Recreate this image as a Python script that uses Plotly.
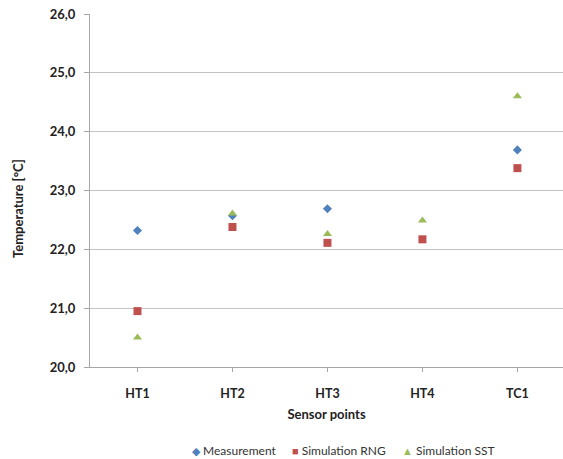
import plotly.graph_objects as go

sensors = ["HT1", "HT2", "HT3", "HT4", "TC1"]
measurement = [22.32, 22.57, 22.69, None, 23.69]
simulation_rng = [20.95, 22.38, 22.11, 22.17, 23.38]
simulation_sst = [20.50, 22.61, 22.26, 22.49, 24.60]

series = [
    ("Measurement", measurement, "diamond", "#4F81BD", 7, "◆"),
    ("Simulation RNG", simulation_rng, "square", "#C0504D", 8, "■"),
    ("Simulation SST", simulation_sst, "triangle-up", "#9BBB59", 8, "▲"),
]

font_family = "Lato, 'Open Sans', sans-serif"

fig = go.Figure()
for name, vals, sym, col, size, glyph in series:
    fig.add_trace(go.Scatter(
        x=sensors, y=vals, mode="markers", name=name, showlegend=False,
        marker=dict(symbol=sym, color=col, size=size, line=dict(width=0)),
    ))

# compact legend row below the axis title
legend_x = [190, 290, 400]
for (name, vals, sym, col, size, glyph), lx in zip(series, legend_x):
    fig.add_annotation(
        xref="paper", yref="paper",
        x=(lx - 90) / 473, y=(367 - 450) / 353,
        xanchor="left", yanchor="middle", showarrow=False,
        text=f"<span style='color:{col};font-size:11px'>{glyph}</span> {name}",
        font=dict(size=12, family=font_family, color="#333333"),
    )

# y-axis title
fig.add_annotation(
    xref="paper", yref="paper",
    x=(18 - 90) / 473, y=(367 - 209) / 353,
    xanchor="center", yanchor="middle", showarrow=False, textangle=-90,
    text="<b>Temperature [°C]</b>",
    font=dict(size=13, family=font_family, color="#222222"),
)

fig.update_layout(
    width=563, height=459,
    margin=dict(l=90, r=0, t=14, b=92),
    paper_bgcolor="white", plot_bgcolor="white",
    separators=", ",
    font=dict(family=font_family, color="#222222", size=12),
    showlegend=False,
    xaxis=dict(
        type="category", range=[-0.5, 4.48],
        showgrid=False, showline=True, linecolor="#A6A6A6", linewidth=1,
        ticks="outside", ticklen=4, tickcolor="#A6A6A6",
        ticklabelstandoff=11,
        tickfont=dict(size=12.5, family=font_family, weight="bold", color="#222222"),
        title=dict(text="<b>Sensor points</b>", font=dict(size=13), standoff=9),
        zeroline=False,
    ),
    yaxis=dict(
        range=[20, 26], dtick=1, tickformat=".1f",
        showgrid=True, gridcolor="#C3C3C3", gridwidth=1,
        showline=True, linecolor="#A6A6A6", linewidth=1,
        ticks="outside", ticklen=5, tickcolor="#A6A6A6",
        ticklabelstandoff=6,
        tickfont=dict(size=13, family=font_family, weight="bold", color="#222222"),
        zeroline=False,
    ),
)

fig.write_html("out.html")
